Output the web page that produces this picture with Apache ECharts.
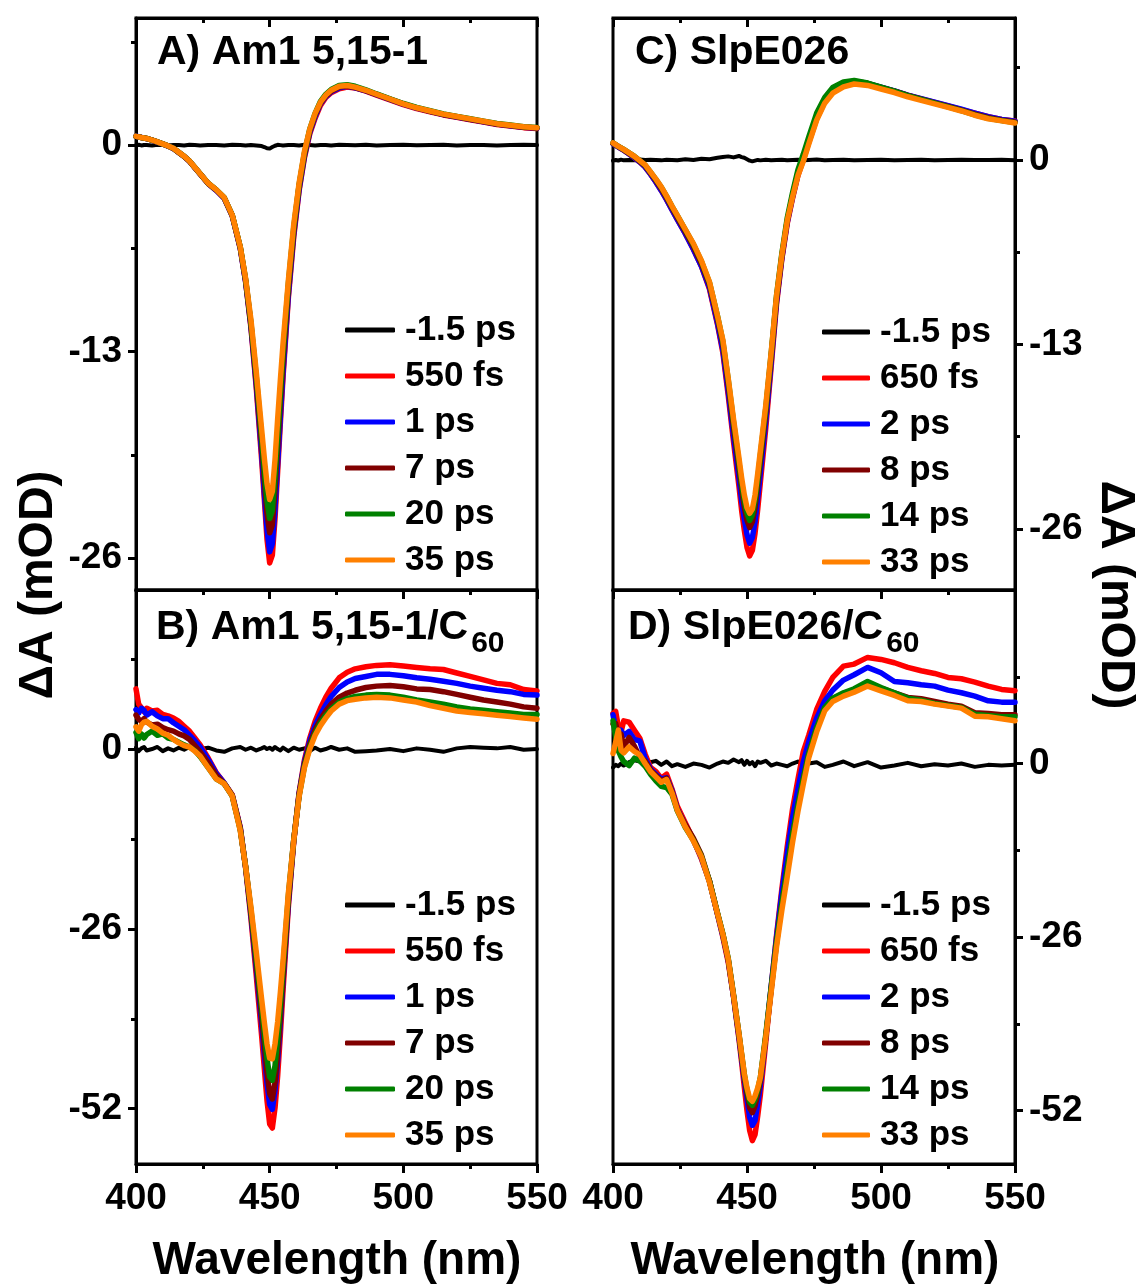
<!DOCTYPE html>
<html>
<head>
<meta charset="utf-8">
<script src="https://cdn.jsdelivr.net/npm/echarts@6/dist/echarts.min.js"></script>
<style>
html,body{margin:0;padding:0;background:#fff;}
#chart{width:1136px;height:1284px;}
</style>
</head>
<body>
<div id="chart"></div>
<script>
// Probe wavelengths (nm), shared by every spectrum
const wavelength = [
  400,401,402,403,404,406,408,410,412,414,
  416,418,420,422,424,427,430,433,436,439,
  441,443,445,447,448,449,450,451,452,453,
  454,455,457,459,461,463,465,467,469,471,
  473,476,479,482,486,490,495,500,505,510,
  515,520,525,530,535,540,545,550
];

// Pump-probe delays
const delaysAm1 = ['-1.5 ps', '550 fs', '1 ps', '7 ps', '20 ps', '35 ps'];
const delaysSlpE = ['-1.5 ps', '650 fs', '2 ps', '8 ps', '14 ps', '33 ps'];
const traceColors = ['#000000', '#ff0000', '#0000ff', '#800000', '#008000', '#ff8000'];

// Y tick values (mOD)
const ticksSmall = [-26, -13, 0];
const minorSmall = [-19.5, -6.5, 6.5];
const ticksLarge = [-52, -26, 0];
const minorLarge = [-39, -13, 13];
const xTicks = [400, 450, 500, 550];

// ---- A) Am1 5,15-1 : ΔA (mOD)
const am1_m1p5ps = [
  0.00,0.02,-0.02,0.01,0.00,-0.03,0.02,0.00,-0.02,0.01,
  0.00,-0.03,0.02,0.00,-0.02,0.01,0.00,-0.02,0.02,0.00,
  -0.03,0.01,-0.02,-0.06,-0.12,-0.20,-0.22,-0.12,-0.04,0.02,
  0.00,-0.02,0.01,0.00,-0.02,0.02,0.00,-0.03,0.01,0.00,
  -0.02,0.02,0.00,-0.01,0.02,-0.02,0.00,0.02,-0.01,0.00,
  0.02,-0.02,0.00,0.01,-0.02,0.00,0.02,0.00
];
const am1_550fs = [
  0.55,0.52,0.48,0.45,0.41,0.31,0.19,0.07,-0.06,-0.22,
  -0.47,-0.72,-1.02,-1.42,-1.82,-2.42,-2.85,-3.35,-4.45,-6.50,
  -8.6,-11.5,-15.3,-19.8,-22.3,-24.8,-26.3,-25.8,-23.5,-20.5,
  -17.5,-14.6,-9.6,-5.8,-2.9,-0.8,0.7,1.7,2.5,3.0,
  3.3,3.55,3.65,3.6,3.4,3.15,2.85,2.55,2.3,2.1,
  1.9,1.75,1.6,1.45,1.3,1.2,1.1,1.05
];
const am1_1ps = [
  0.56,0.53,0.49,0.45,0.41,0.31,0.19,0.07,-0.06,-0.22,
  -0.47,-0.72,-1.02,-1.42,-1.82,-2.42,-2.85,-3.35,-4.45,-6.50,
  -8.6,-11.4,-15.1,-19.4,-21.9,-24.2,-25.6,-25.1,-22.9,-20.0,
  -17.1,-14.3,-9.4,-5.6,-2.8,-0.7,0.8,1.8,2.6,3.05,
  3.35,3.6,3.7,3.6,3.42,3.18,2.88,2.58,2.33,2.12,
  1.92,1.77,1.62,1.47,1.32,1.22,1.12,1.07
];
const am1_7ps = [
  0.55,0.52,0.48,0.45,0.42,0.32,0.20,0.08,-0.05,-0.21,
  -0.46,-0.71,-1.01,-1.41,-1.81,-2.41,-2.82,-3.32,-4.42,-6.45,
  -8.5,-11.3,-14.8,-18.8,-21.1,-23.2,-24.4,-23.9,-21.7,-19.0,
  -16.2,-13.6,-9.0,-5.4,-2.6,-0.6,0.9,1.9,2.65,3.1,
  3.4,3.65,3.72,3.62,3.43,3.19,2.89,2.59,2.34,2.13,
  1.93,1.78,1.63,1.48,1.33,1.23,1.13,1.08
];
const am1_20ps = [
  0.55,0.52,0.48,0.45,0.42,0.32,0.20,0.08,-0.05,-0.20,
  -0.45,-0.70,-1.00,-1.40,-1.80,-2.40,-2.80,-3.30,-4.40,-6.40,
  -8.45,-11.2,-14.6,-18.4,-20.5,-22.4,-23.5,-23.0,-20.9,-18.3,
  -15.6,-13.1,-8.7,-5.2,-2.5,-0.5,1.0,2.0,2.75,3.2,
  3.5,3.75,3.8,3.7,3.48,3.22,2.92,2.62,2.37,2.16,
  1.96,1.81,1.66,1.51,1.36,1.26,1.16,1.11
];
const am1_35ps = [
  0.55,0.52,0.48,0.45,0.42,0.32,0.20,0.08,-0.05,-0.20,
  -0.45,-0.70,-1.00,-1.40,-1.80,-2.40,-2.80,-3.30,-4.40,-6.40,
  -8.4,-11.0,-14.3,-17.9,-19.7,-21.3,-22.3,-21.8,-19.8,-17.2,
  -14.8,-12.5,-8.5,-5.0,-2.4,-0.4,1.0,2.0,2.7,3.15,
  3.45,3.7,3.75,3.65,3.45,3.2,2.9,2.6,2.35,2.15,
  1.95,1.8,1.65,1.5,1.35,1.25,1.15,1.1
];

// ---- B) Am1 5,15-1/C60
const am1c60_m1p5ps = [
  0.2,-0.3,0.1,0.3,-0.2,0.0,0.3,-0.3,0.1,-0.2,
  0.2,-0.1,0.3,-0.3,0.0,0.2,-0.2,-0.4,0.1,0.3,
  -0.1,0.2,-0.2,0.1,0.3,0.0,0.2,-0.1,0.3,0.0,
  -0.2,0.2,-0.3,0.2,-0.1,0.1,-0.3,0.2,-0.2,0.0,
  0.3,-0.1,0.1,-0.4,-0.3,-0.2,0.0,-0.3,0.1,-0.1,
  -0.4,0.1,0.3,0.2,0.1,0.3,-0.1,0.0
];
const am1c60_550fs = [
  8.7,6.5,6.0,5.4,5.9,5.5,5.6,5.0,4.8,4.5,
  4.0,3.3,2.6,1.6,0.6,-1.3,-3.4,-4.9,-6.6,-11.3,
  -17.2,-24.5,-32.8,-41.5,-46.2,-50.8,-54.2,-54.8,-51.9,-47.2,
  -41.3,-34.9,-22.8,-13.4,-6.3,-1.6,1.6,4.0,5.9,7.5,
  8.8,10.3,11.1,11.6,11.9,12.1,12.2,12.0,11.8,11.6,
  11.5,11.0,10.5,10.0,9.5,9.3,8.6,8.4
];
const am1c60_1ps = [
  5.7,5.2,5.9,5.6,4.9,5.4,4.8,4.4,4.4,3.8,
  3.3,2.8,2.0,1.2,0.3,-1.5,-3.5,-4.9,-6.7,-11.4,
  -17.1,-24.0,-31.8,-39.8,-44.1,-48.3,-51.4,-52.1,-49.4,-45.0,
  -39.6,-33.6,-22.2,-13.3,-6.5,-1.9,1.2,3.4,5.0,6.4,
  7.6,8.9,9.7,10.2,10.5,10.8,10.8,10.6,10.3,10.1,
  9.8,9.5,9.1,8.8,8.5,8.3,7.9,7.8
];
const am1c60_7ps = [
  4.9,4.3,4.0,4.4,3.9,3.5,3.6,3.1,2.8,2.6,
  2.2,1.9,1.4,0.5,-0.4,-2.0,-3.8,-5.0,-6.7,-11.5,
  -17.0,-23.6,-31.1,-38.7,-42.8,-46.8,-49.8,-50.6,-48.2,-44.0,
  -38.7,-33.0,-21.8,-13.2,-6.6,-2.2,0.7,2.8,4.3,5.5,
  6.5,7.5,8.1,8.5,8.9,9.1,9.2,9.0,8.7,8.6,
  8.3,7.9,7.5,7.1,6.8,6.5,6.1,5.9
];
const am1c60_20ps = [
  2.4,1.5,2.2,1.6,2.1,2.6,2.0,2.2,1.6,1.4,
  1.0,0.6,0.3,-0.2,-1.1,-2.7,-4.3,-5.0,-6.8,-11.7,
  -17.0,-23.3,-30.4,-37.4,-41.1,-44.7,-47.4,-47.9,-45.8,-41.9,
  -37.0,-31.7,-21.2,-13.1,-6.8,-2.5,0.3,2.3,3.8,4.9,
  5.8,6.8,7.3,7.6,7.8,7.9,7.8,7.5,7.1,6.8,
  6.5,6.1,5.8,5.6,5.4,5.2,5.0,5.0
];
const am1c60_35ps = [
  3.2,2.6,3.5,3.9,4.0,3.3,2.9,2.3,2.0,1.4,
  0.9,0.5,0.3,-0.3,-1.0,-2.7,-4.3,-5.0,-6.8,-11.8,
  -17.0,-22.9,-29.4,-36.2,-39.5,-42.6,-44.7,-44.8,-42.6,-39.4,
  -35.2,-30.6,-20.8,-13.2,-6.9,-2.7,0.0,2.0,3.4,4.5,
  5.5,6.5,7.0,7.2,7.4,7.5,7.4,7.1,6.8,6.3,
  5.9,5.5,5.3,5.1,4.9,4.7,4.5,4.3
];

// ---- C) SlpE026
const slpe_m1p5ps = [
  -0.05,0.0,-0.04,0.02,-0.03,0.0,-0.02,0.03,-0.01,0.02,
  0.0,-0.03,0.02,0.0,-0.02,0.05,0.0,0.08,0.05,0.15,
  0.2,0.25,0.18,0.28,0.2,0.15,0.05,-0.05,-0.1,-0.05,
  0.0,-0.03,0.02,-0.02,0.0,0.02,-0.02,0.0,0.02,-0.02,
  0.0,0.03,-0.02,0.0,0.02,-0.03,0.0,0.02,-0.02,0.0,
  0.02,-0.02,0.0,0.02,-0.01,0.0,0.02,-0.02
];
const slpe_650fs = [
  1.15,1.03,0.91,0.8,0.68,0.42,0.15,-0.15,-0.5,-1.0,
  -1.55,-2.15,-2.8,-3.5,-4.2,-5.2,-6.3,-7.5,-9.1,-11.6,
  -13.6,-16.6,-19.9,-23.0,-24.7,-26.1,-27.3,-27.9,-27.5,-26.3,
  -24.6,-22.7,-18.9,-14.6,-10.2,-7.0,-4.5,-2.7,-1.1,0.0,
  1.2,2.9,4.1,4.8,5.3,5.45,5.35,5.1,4.85,4.55,
  4.3,4.05,3.8,3.55,3.3,3.05,2.85,2.75
];
const slpe_2ps = [
  1.15,1.03,0.91,0.8,0.68,0.42,0.15,-0.15,-0.5,-1.0,
  -1.55,-2.15,-2.8,-3.5,-4.2,-5.2,-6.3,-7.5,-9.0,-11.5,
  -13.4,-16.3,-19.5,-22.4,-24.0,-25.3,-26.4,-27.0,-26.6,-25.5,
  -23.8,-22.0,-18.4,-14.3,-10.0,-6.9,-4.4,-2.6,-1.0,0.1,
  1.3,3.0,4.2,4.9,5.35,5.5,5.38,5.12,4.87,4.57,
  4.32,4.07,3.82,3.57,3.3,3.05,2.85,2.72
];
const slpe_8ps = [
  1.18,1.06,0.94,0.83,0.71,0.46,0.2,-0.1,-0.42,-0.92,
  -1.45,-2.02,-2.67,-3.37,-4.05,-5.05,-6.1,-7.3,-8.8,-11.2,
  -13.0,-15.8,-18.9,-21.7,-23.2,-24.5,-25.4,-25.9,-25.5,-24.5,
  -22.9,-21.2,-17.8,-13.9,-9.8,-6.8,-4.3,-2.5,-0.9,0.2,
  1.4,3.1,4.3,5.0,5.4,5.55,5.4,5.12,4.85,4.55,
  4.28,4.02,3.77,3.5,3.22,2.97,2.8,2.68
];
const slpe_14ps = [
  1.2,1.08,0.96,0.85,0.74,0.5,0.25,-0.05,-0.36,-0.86,
  -1.37,-1.92,-2.57,-3.27,-3.93,-4.93,-5.95,-7.15,-8.65,-11.0,
  -12.8,-15.5,-18.5,-21.3,-22.8,-24.0,-24.9,-25.4,-25.0,-24.0,
  -22.5,-20.8,-17.5,-13.7,-9.6,-6.6,-4.1,-2.3,-0.7,0.4,
  1.6,3.3,4.4,5.1,5.5,5.6,5.42,5.13,4.85,4.53,
  4.26,4.0,3.74,3.47,3.18,2.93,2.77,2.63
];
const slpe_33ps = [
  1.2,1.08,0.96,0.85,0.74,0.5,0.25,-0.05,-0.35,-0.85,
  -1.35,-1.9,-2.55,-3.25,-3.9,-4.9,-5.9,-7.1,-8.6,-11.0,
  -12.7,-15.4,-18.3,-21.0,-22.4,-23.6,-24.5,-24.9,-24.6,-23.6,
  -22.1,-20.5,-17.3,-13.6,-9.6,-6.7,-4.3,-2.6,-1.1,-0.1,
  1.1,2.8,4.0,4.7,5.15,5.35,5.25,5.0,4.75,4.45,
  4.2,3.95,3.7,3.45,3.15,2.9,2.75,2.6
];

// ---- D) SlpE026/C60
const slpec60_m1p5ps = [
  -0.6,-0.2,-0.4,0.0,-0.3,0.2,0.5,0.3,0.6,0.2,
  0.4,-0.2,0.3,-0.4,-0.1,-0.5,0.0,-0.2,-0.6,0.0,
  0.3,0.1,0.6,0.2,0.5,-0.2,0.4,-0.1,0.2,-0.4,
  0.3,0.1,0.4,-0.3,0.0,-0.2,-0.4,0.0,0.3,-0.2,
  0.0,0.2,-0.5,-0.2,0.3,-0.4,0.2,-0.6,-0.3,0.1,
  -0.4,-0.1,-0.3,0.0,-0.5,-0.2,-0.3,-0.2
];
const slpec60_650fs = [
  7.5,7.8,5.5,4.7,6.4,6.2,5.0,3.8,1.4,-0.6,
  -1.2,-2.2,-1.6,-3.8,-6.4,-8.9,-11.4,-14.3,-17.6,-22.6,
  -26.0,-29.8,-35.0,-41.3,-44.8,-48.5,-52.0,-55.0,-56.5,-55.6,
  -52.8,-49.6,-41.8,-33.6,-25.8,-18.8,-12.5,-6.8,-2.4,1.8,
  4.2,8.1,10.8,12.9,14.6,14.9,15.9,15.6,15.1,14.4,
  13.9,13.5,12.9,12.7,12.2,11.6,11.1,10.9
];
const slpec60_2ps = [
  7.3,5.2,4.2,5.0,4.2,4.8,3.6,3.4,0.8,-0.8,
  -1.6,-2.3,-2.1,-4.0,-6.8,-9.2,-11.5,-14.1,-17.7,-22.6,
  -25.8,-29.5,-35.0,-41.0,-44.2,-47.4,-50.3,-53.0,-54.2,-53.5,
  -51.0,-48.2,-41.0,-33.5,-26.1,-19.4,-13.5,-8.1,-3.8,0.2,
  3.2,6.8,9.4,11.0,12.5,13.3,14.4,13.6,12.3,12.1,
  11.8,11.6,11.0,10.6,10.1,9.4,9.2,9.2
];
const slpec60_8ps = [
  5.9,6.0,4.2,4.4,2.5,3.9,2.6,1.0,0.4,-1.0,
  -1.8,-2.6,-2.2,-4.2,-6.9,-9.2,-11.2,-13.7,-17.6,-22.5,
  -25.6,-29.4,-34.9,-40.7,-43.8,-46.9,-49.4,-51.6,-52.3,-51.3,
  -49.6,-47.4,-41.0,-34.0,-27.0,-21.0,-15.8,-10.7,-6.3,-2.3,
  1.4,5.3,8.3,9.7,10.5,11.0,12.0,11.3,10.6,9.9,
  9.7,9.3,8.9,8.6,7.6,7.5,7.3,7.3
];
const slpec60_14ps = [
  6.4,4.0,1.9,1.0,0.3,-0.3,0.8,0.4,-0.4,-1.6,
  -2.6,-3.4,-3.6,-4.6,-7.1,-9.6,-11.5,-13.9,-17.6,-22.4,
  -25.5,-29.2,-34.7,-40.5,-43.6,-46.6,-48.9,-50.7,-51.2,-50.3,
  -48.9,-47.0,-40.6,-33.6,-26.8,-21.0,-15.8,-10.6,-6.2,-2.3,
  1.4,5.4,8.4,9.8,10.6,11.2,12.3,11.4,10.6,9.8,
  9.5,9.0,8.7,8.4,7.4,7.2,7.0,7.0
];
const slpec60_33ps = [
  1.5,3.2,5.0,2.0,1.6,2.5,1.8,1.3,0.0,-1.2,
  -2.0,-2.8,-2.4,-4.4,-7.0,-9.5,-11.6,-14.0,-17.8,-22.5,
  -25.6,-29.3,-34.8,-40.5,-43.5,-46.5,-48.6,-50.2,-50.6,-49.8,
  -48.6,-47.0,-41.0,-34.3,-27.5,-22.0,-17.0,-11.8,-7.2,-3.1,
  0.8,4.75,7.9,9.3,10.1,10.7,11.6,10.9,10.2,9.4,
  9.3,8.9,8.6,8.3,7.1,7.0,6.7,6.4
];

const FONT = '"Liberation Sans", Arial, Helvetica, sans-serif';
const BLACK = '#000';

const panels = [
  { grid: { left: 136, top: 18, width: 401, height: 572 }, yMin: -28, yMax: 8,
    major: ticksSmall, minor: minorSmall, side: 'left', xLabels: false,
    names: delaysAm1, traces: [am1_m1p5ps, am1_550fs, am1_1ps, am1_7ps, am1_20ps, am1_35ps],
    legend: { left: 345, top: 307, itemWidth: 50 } },
  { grid: { left: 136, top: 590, width: 401, height: 574 }, yMin: -60, yMax: 23,
    major: ticksLarge, minor: minorLarge, side: 'left', xLabels: true,
    names: delaysAm1, traces: [am1c60_m1p5ps, am1c60_550fs, am1c60_1ps, am1c60_7ps, am1c60_20ps, am1c60_35ps],
    legend: { left: 345, top: 882, itemWidth: 50 } },
  { grid: { left: 613, top: 18, width: 402, height: 572 }, yMin: -30.3, yMax: 10,
    major: ticksSmall, minor: minorSmall, side: 'right', xLabels: false,
    names: delaysSlpE, traces: [slpe_m1p5ps, slpe_650fs, slpe_2ps, slpe_8ps, slpe_14ps, slpe_33ps],
    legend: { left: 822, top: 309, itemWidth: 48 } },
  { grid: { left: 613, top: 590, width: 402, height: 574 }, yMin: -60, yMax: 26,
    major: ticksLarge, minor: minorLarge, side: 'right', xLabels: true,
    names: delaysSlpE, traces: [slpec60_m1p5ps, slpec60_650fs, slpec60_2ps, slpec60_8ps, slpec60_14ps, slpec60_33ps],
    legend: { left: 822, top: 882, itemWidth: 48 } }
];

const labelFont = { fontSize: 37, fontWeight: 'bold', color: BLACK, fontFamily: FONT };

const grids = [], xAxes = [], yAxes = [], series = [], legends = [];

panels.forEach((p, gi) => {
  grids.push(Object.assign({
    show: true, borderColor: BLACK, borderWidth: 3, backgroundColor: 'transparent',
    containLabel: false, outerBoundsMode: 'none'
  }, p.grid));

  // bottom wavelength axis (outward ticks)
  xAxes.push({
    type: 'value', gridIndex: gi, position: 'bottom', min: 400, max: 550, interval: 50,
    axisLine: { show: true, onZero: false, lineStyle: { color: BLACK, width: 3 } },
    axisTick: { show: true, length: 9, lineStyle: { color: BLACK, width: 3 } },
    minorTick: { show: true, splitNumber: 2, length: 5, lineStyle: { color: BLACK, width: 3 } },
    axisLabel: Object.assign({ show: p.xLabels, margin: 16, customValues: xTicks }, labelFont),
    splitLine: { show: false }, minorSplitLine: { show: false }
  });
  // top mirror axis (inward ticks)
  xAxes.push({
    type: 'value', gridIndex: gi, position: 'top', min: 400, max: 550, interval: 50,
    axisLine: { show: true, onZero: false, lineStyle: { color: BLACK, width: 3 } },
    axisTick: { show: true, inside: true, length: 9, lineStyle: { color: BLACK, width: 3 } },
    minorTick: { show: true, splitNumber: 2, length: 5, lineStyle: { color: BLACK, width: 3 } },
    axisLabel: { show: false },
    splitLine: { show: false }, minorSplitLine: { show: false }
  });
  // ΔA axis with labelled major ticks
  yAxes.push({
    type: 'value', gridIndex: gi, position: p.side, min: p.yMin, max: p.yMax,
    axisLine: { show: true, onZero: false, lineStyle: { color: BLACK, width: 3 } },
    axisTick: { show: true, customValues: p.major, length: 8, lineStyle: { color: BLACK, width: 3 } },
    axisLabel: Object.assign({ show: true, customValues: p.major, margin: 14 }, labelFont),
    splitLine: { show: false }
  });
  // companion axis carrying the short minor ticks
  yAxes.push({
    type: 'value', gridIndex: gi, position: p.side, min: p.yMin, max: p.yMax,
    axisLine: { show: false, onZero: false },
    axisTick: { show: true, customValues: p.minor, length: 5, lineStyle: { color: BLACK, width: 3 } },
    axisLabel: { show: false, customValues: p.minor },
    splitLine: { show: false }
  });

  p.traces.forEach((vals, si) => {
    series.push({
      type: 'line', name: p.names[si],
      xAxisIndex: gi * 2, yAxisIndex: gi * 2,
      data: wavelength.map((w, i) => [w, vals[i]]),
      color: traceColors[si],
      showSymbol: false, symbol: 'none',
      lineStyle: { color: traceColors[si], width: si === 0 ? 4 : 5.5, cap: 'round', join: 'round' },
      silent: true, animation: false, clip: true,
      emphasis: { disabled: true }
    });
  });

  legends.push({
    show: true, orient: 'vertical', left: p.legend.left, top: p.legend.top,
    padding: 0, itemGap: 0, itemWidth: p.legend.itemWidth, itemHeight: 5,
    icon: 'roundRect', selectedMode: false, data: p.names,
    textStyle: { fontSize: 35, fontWeight: 'bold', color: BLACK, fontFamily: FONT,
                 lineHeight: 46, padding: [0, 0, 0, 5] }
  });
});

// panel titles with C60 subscripts
const measureCtx = document.createElement('canvas').getContext('2d');
measureCtx.font = 'bold 41px ' + FONT;
const titleB = 'B) Am1 5,15-1/C';
const titleD = 'D) SlpE026/C';
const wB = measureCtx.measureText(titleB).width;
const wD = measureCtx.measureText(titleD).width;

function txt(text, x, y, size) {
  return {
    type: 'text', x: x, y: y, silent: true, z: 100,
    style: { text: text, fontSize: size, fontWeight: 'bold', fontFamily: FONT, fill: BLACK,
             align: 'left', verticalAlign: 'middle' }
  };
}
function ctxt(text, x, y, size, rot) {
  return {
    type: 'text', x: x, y: y, rotation: rot || 0, silent: true, z: 100,
    style: { text: text, fontSize: size, fontWeight: 'bold', fontFamily: FONT, fill: BLACK,
             align: 'center', verticalAlign: 'middle' }
  };
}

const graphics = [
  txt('A) Am1 5,15-1', 157, 53, 41),
  txt(titleB, 156, 628, 41),
  txt('60', 156 + wB + 3, 644, 30),
  txt('C) SlpE026', 635, 53, 41),
  txt(titleD, 628, 628, 41),
  txt('60', 628 + wD + 3, 644, 30),
  ctxt('ΔA (mOD)', 39, 585, 48, Math.PI / 2),
  ctxt('ΔA (mOD)', 1115, 595, 48, -Math.PI / 2),
  ctxt('Wavelength (nm)', 337, 1261, 46),
  ctxt('Wavelength (nm)', 815, 1261, 46)
];

const chart = echarts.init(document.getElementById('chart'), null, { renderer: 'canvas', width: 1136, height: 1284 });
chart.setOption({
  backgroundColor: '#ffffff',
  animation: false,
  grid: grids,
  xAxis: xAxes,
  yAxis: yAxes,
  legend: legends,
  series: series,
  graphic: graphics
});
</script>
</body>
</html>
